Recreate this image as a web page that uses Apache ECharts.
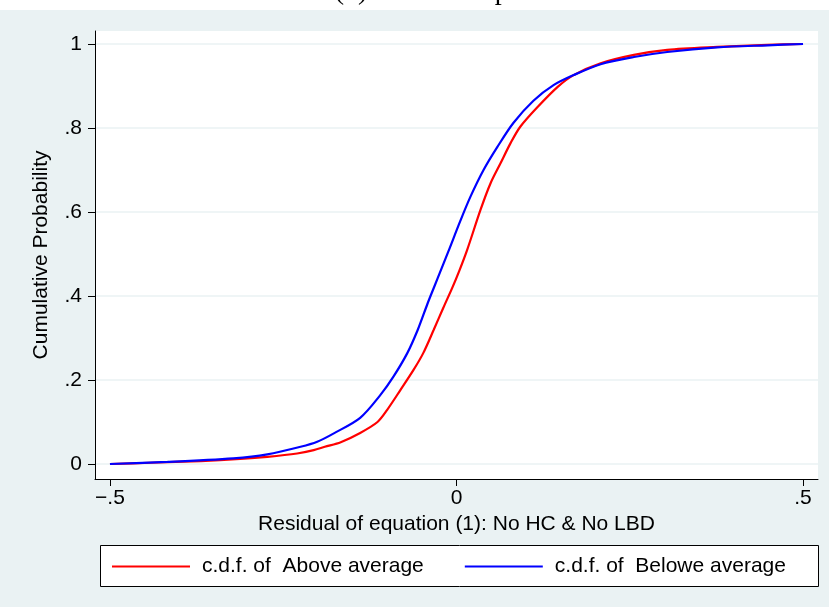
<!DOCTYPE html>
<html>
<head>
<meta charset="utf-8">
<script src="https://cdn.jsdelivr.net/npm/echarts@6/dist/echarts.min.js"></script>
<style>html,body{margin:0;padding:0;background:#EAF2F3;}#c{width:829px;height:607px;}</style>
</head>
<body>
<div id="c"></div>
<script>
// ---- data ----
var titleText = 'Panel (b) Human Capital';
var xTitle = 'Residual of equation (1): No HC & No LBD';
var yTitle = 'Cumulative Probability';
var seriesNames = ['c.d.f. of  Above average', 'c.d.f. of  Belowe average'];
var xTicks = [-0.5, 0, 0.5];
var xTickLabels = ['\u2212.5', '0', '.5'];
var yTicks = [0, 0.2, 0.4, 0.6, 0.8, 1];
var yTickLabels = ['0', '.2', '.4', '.6', '.8', '1'];

var aboveX = [-0.5, -0.4416, -0.369, -0.312, -0.273, -0.23, -0.206, -0.19, -0.167, -0.139, -0.114, -0.1, -0.081, -0.062, -0.048, -0.033, -0.019, -0.006, 0.004, 0.0154, 0.0346, 0.049, 0.0635, 0.078, 0.092, 0.117, 0.146, 0.169, 0.208, 0.256, 0.304, 0.376, 0.449, 0.5];
var aboveY = [0, 0.003, 0.007, 0.012, 0.017, 0.025, 0.033, 0.041, 0.052, 0.074, 0.1, 0.129, 0.176, 0.224, 0.264, 0.319, 0.372, 0.42, 0.46, 0.51, 0.605, 0.668, 0.716, 0.764, 0.803, 0.85, 0.898, 0.926, 0.954, 0.974, 0.986, 0.993, 0.998, 1.0];

var belowX = [-0.5, -0.417, -0.322, -0.273, -0.225, -0.201, -0.177, -0.139, -0.11, -0.091, -0.071, -0.056, -0.042, -0.0375, -0.027, -0.012, 0.0058, 0.02, 0.039, 0.059, 0.082, 0.111, 0.14, 0.169, 0.208, 0.256, 0.304, 0.376, 0.449, 0.5];
var belowY = [0, 0.005, 0.0136, 0.023, 0.041, 0.053, 0.073, 0.11, 0.164, 0.208, 0.264, 0.319, 0.381, 0.4, 0.443, 0.505, 0.58, 0.636, 0.7, 0.755, 0.812, 0.865, 0.902, 0.926, 0.952, 0.969, 0.981, 0.992, 0.997, 1.0];

function zip(xs, ys) { return xs.map(function (x, i) { return [x, ys[i]]; }); }

var FONT = 'Liberation Sans, Arial, Helvetica, sans-serif';
var chart = echarts.init(document.getElementById('c'), null, {renderer: 'canvas'});
chart.setOption({
  backgroundColor: '#EAF2F3',
  animation: false,
  textStyle: {fontFamily: FONT},
  graphic: [
    {type: 'rect', left: 0, top: 0, shape: {width: 829, height: 10}, style: {fill: '#ffffff'}, z: 0},
    {type: 'text', x: 405, y: -8, style: {text: titleText, font: '28px "Liberation Serif", "Times New Roman", serif', fill: '#000', align: 'center', verticalAlign: 'middle'}, z: 1},
    {type: 'rect', left: 100, top: 545, shape: {width: 718, height: 41}, style: {fill: '#ffffff', stroke: '#000000', lineWidth: 1}, z: 0}
  ],
  grid: {left: 95, top: 31, right: 11, bottom: 128, show: true, backgroundColor: '#ffffff', borderWidth: 0, containLabel: false},
  legend: {
    left: 107, top: 551,
    itemWidth: 78, itemHeight: 2, itemGap: 41, icon: 'rect',
    textStyle: {fontSize: 21, color: '#000', fontFamily: FONT, padding: [0, 0, 0, 7]},
    data: seriesNames,
    z: 5
  },
  xAxis: {
    type: 'value', min: -0.5216, max: 0.5216,
    name: xTitle, nameLocation: 'middle', nameGap: 31,
    nameTextStyle: {fontSize: 21, color: '#000', fontFamily: FONT},
    axisLine: {show: true, onZero: false, lineStyle: {color: '#000', width: 1}},
    axisTick: {show: true, customValues: xTicks, length: 7, lineStyle: {color: '#000', width: 1}},
    axisLabel: {show: true, customValues: xTicks, margin: 9, fontSize: 21, color: '#000', fontFamily: FONT,
      formatter: function (v) { var i = xTicks.indexOf(v); return i >= 0 ? xTickLabels[i] : ''; }},
    splitLine: {show: false}
  },
  yAxis: {
    type: 'value', min: -0.0357, max: 1.031,
    name: yTitle, nameLocation: 'middle', nameGap: 43, nameRotate: 90,
    nameTextStyle: {fontSize: 21, color: '#000', fontFamily: FONT},
    axisLine: {show: true, onZero: false, lineStyle: {color: '#000', width: 1}},
    axisTick: {show: true, customValues: yTicks, length: 7, lineStyle: {color: '#000', width: 1}},
    axisLabel: {show: true, customValues: yTicks, margin: 13, fontSize: 21, color: '#000', fontFamily: FONT,
      formatter: function (v) { var i = yTicks.indexOf(v); return i >= 0 ? yTickLabels[i] : ''; }},
    splitLine: {show: true, lineStyle: {color: '#EAF2F3', width: 1.5}}
  },
  series: [
    {name: seriesNames[0], type: 'line', data: zip(aboveX, aboveY), symbol: 'none', smooth: 0.3,
      lineStyle: {color: '#ff0000', width: 2.2}, itemStyle: {color: '#ff0000'}},
    {name: seriesNames[1], type: 'line', data: zip(belowX, belowY), symbol: 'none', smooth: 0.3,
      lineStyle: {color: '#0000ff', width: 2.2}, itemStyle: {color: '#0000ff'}}
  ]
});
</script>
</body>
</html>
